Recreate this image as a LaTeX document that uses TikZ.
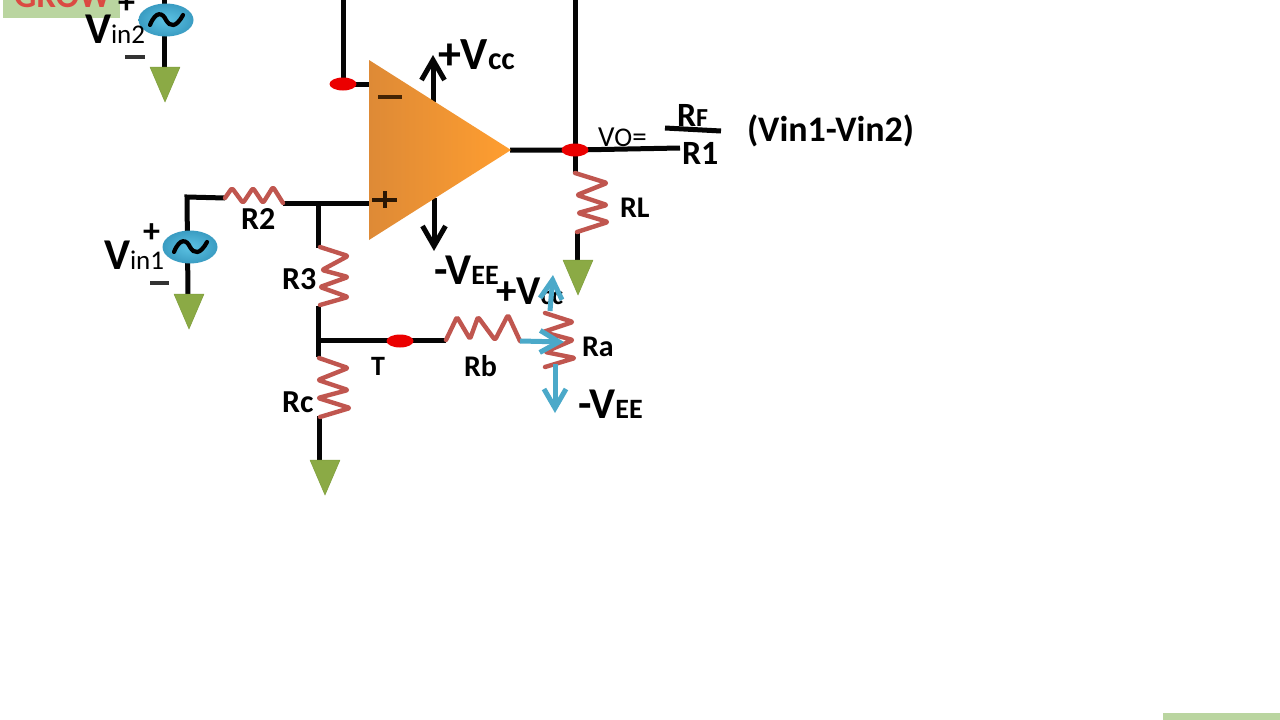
\documentclass[tikz,border=0pt]{standalone}
\usepackage{fontspec}
\setmainfont{Carlito}
\usetikzlibrary{arrows.meta,shapes.geometric}
\definecolor{wirec}{HTML}{050505}
\definecolor{resc}{HTML}{C0564F}
\definecolor{gndc}{HTML}{8BAA45}
\definecolor{gndd}{HTML}{7E9E3A}
\definecolor{bluea}{HTML}{4BA9C9}
\definecolor{barc}{HTML}{BAD5A0}
\definecolor{growc}{HTML}{DB4A42}
\definecolor{ampl}{HTML}{DE8A36}
\definecolor{ampr}{HTML}{FF9E30}
\definecolor{srci}{HTML}{5CC3E4}
\definecolor{srco}{HTML}{3A9CC2}
\tikzset{
  wire/.style={draw=wirec,line width=5pt},
  zig/.style={draw=resc,line width=4.4pt,line join=round,line cap=round,rounded corners=2pt},
  barb/.style={wire,-{Straight Barb[length=20pt,width=23pt,line width=5pt]}},
  bluew/.style={draw=bluea,line width=5pt,-{Straight Barb[length=19pt,width=22pt,line width=5pt]}},
  lab/.style={anchor=base west,inner sep=0pt,outer sep=0pt,text=black},
  srcnode/.style={ellipse,minimum width=55pt,minimum height=33pt,inner sep=0pt,inner color=srci,outer color=srco},
  dotn/.style={ellipse,minimum width=27pt,minimum height=13pt,inner sep=0pt,fill=red!92!black},
  gnd/.style={fill=gndc,draw=gndd,line width=.5pt,line join=round},
}
\newcommand{\bigf}[1]{{\fontsize{46}{46}\selectfont\bfseries #1}}
\newcommand{\vinf}[1]{{\fontsize{44}{44}\selectfont\bfseries #1}}
\newcommand{\smf}[1]{{\fontsize{27}{27}\selectfont #1}}
\newcommand{\ccf}[1]{{\fontsize{32}{32}\selectfont\bfseries #1}}
\newcommand{\eef}[1]{{\fontsize{28}{28}\selectfont\bfseries #1}}
\newcommand{\lbf}[1]{{\fontsize{32}{32}\selectfont\bfseries #1}}
\newcommand{\tilsym}[2]{\draw[black,line width=4.2pt,line cap=round] (#1-16,#2+5) .. controls (#1-10,#2-10) and (#1-3,#2-7) .. (#1,#2) .. controls (#1+4,#2+7) and (#1+10,#2+8) .. (#1+17,#2-5);}
\newcommand{\gndsym}[2]{\fill[gnd] (#1-15,#2) -- (#1+15,#2) -- (#1,#2+35) -- cycle;}
\begin{document}
\begin{tikzpicture}[x=1pt,y=-1pt]
\useasboundingbox (0,0) rectangle (1280,720);
\clip (0,0) rectangle (1280,720);
\fill[white] (0,0) rectangle (1280,720);
% banner pieces
\fill[barc] (3,0) rectangle (120,18);
\node[lab,text=growc] (grow) at (14,8) {\fontsize{35}{35}\selectfont\bfseries GROW};
\fill[barc] (1163,713) rectangle (1280,720);
% anchors
\coordinate (top2) at (164,-3);
\coordinate (g2) at (164,68);
\coordinate (r2a) at (225,198);
\coordinate (corner) at (187,197);
\coordinate (g1) at (188,295);
\coordinate (r2b) at (283,203);
\coordinate (inp) at (371,203);
\coordinate (jn) at (318,203);
\coordinate (r3a) at (318,248);
\coordinate (r3b) at (318,306);
\coordinate (jt) at (318,340);
\coordinate (rca) at (318,357);
\coordinate (rcb) at (319,416);
\coordinate (g3) at (319,462);
\coordinate (rba) at (446,340);
\coordinate (fbtop) at (343,-3);
\coordinate (inm) at (371,84);
\coordinate (fb2) at (575,-3);
\coordinate (out) at (510,150);
\coordinate (voend) at (680,148);
\coordinate (rla) at (575,173);
\coordinate (rlb) at (577,232);
\coordinate (g4) at (577,262);
\coordinate (vccs) at (433,102);
\coordinate (vcct) at (433,55);
\coordinate (vees) at (434,198);
\coordinate (veet) at (434,251);
\coordinate (ba1) at (520,341);
\coordinate (ba2) at (564,342);
\coordinate (bu1) at (550,311);
\coordinate (bu2) at (553,275);
\coordinate (bd1) at (555,364);
\coordinate (bd2) at (555,413);
% wires
\draw[wire] (top2) -- (g2);
\draw[wire] (g1) -- (corner) -- (r2a);
\draw[wire] (r2b) -- (inp);
\draw[wire] (jn) -- (r3a);
\draw[wire] (r3b) -- (rca);
\draw[wire] (jt) -- (rba);
\draw[wire] (rcb) -- (g3);
\draw[wire] (fbtop) |- (inm);
\draw[wire] (fb2) -- (rla);
\draw[wire] (out) -- (575,150) -- (voend);
\draw[wire] (rlb) -- (g4);
\draw[barb] (vccs) -- (vcct);
\draw[barb] (vees) -- (veet);
% resistors
\draw[zig] (r2a) -- (232,188) -- (243,203) -- (253,188) -- (263,203) -- (273,187) -- (r2b);
\draw[zig] (320,247) -- (348,256) -- (322,270) -- (348,277) -- (320,287) -- (348,297) -- (320,305);
\draw[zig] (319,358) -- (348,368) -- (318,380) -- (348,390) -- (318,398) -- (350,408) -- (320,417);
\draw[zig] (rla) -- (607,183) -- (577,195) -- (607,205) -- (578,213) -- (608,222) -- (rlb);
\draw[zig] (rba) -- (457,317) -- (470,339) -- (478,317) -- (495,340) -- (508,315) -- (ba1);
\draw[zig] (545,313) -- (573,322) -- (543,332) -- (573,340) -- (545,352) -- (575,358) -- (545,367);
% grounds
\gndsym{165}{67}
\gndsym{189}{294}
\gndsym{325}{460}
\gndsym{578}{260}
% sources
\node[srcnode] (vin2) at (166,20) {};
\tilsym{166}{20}
\node[srcnode] (vin1) at (190,247) {};
\tilsym{190}{247}
% op amp
\shade[left color=ampl,right color=ampr] (369,60) -- (511,150) -- (369,240) -- cycle;
\draw[wirec!75!orange,line width=3.6pt] (378,97) -- (402,97);
\draw[wirec!85!orange,line width=3.6pt] (372,200) -- (397,200);
\draw[wirec!85!orange,line width=4.4pt] (385,191) -- (385,208);
% dots
\node[dotn] (d1) at (343,84) {};
\node[dotn] (d2) at (575,150) {};
\node[dotn] (d3) at (400,341) {};
% labels
\node[lab] (p2) at (118,13) {\fontsize{34}{34}\selectfont\bfseries +};
\draw[black!80,line width=3.2pt] (125,57) -- (145,57);
\node[lab] (lv2) at (85,43) {\vinf{V}\smf{in2}};
\node[lab] (p1) at (143,242) {\fontsize{34}{34}\selectfont\bfseries +};
\draw[black!80,line width=3.2pt] (150,283) -- (169,283);
\node[lab] (lv1) at (104,269) {\vinf{V}\smf{in1}};
\node[lab] (r2l) at (241,229) {\lbf{R2}};
\node[lab] (r3l) at (282,289) {\lbf{R3}};
\node[lab] (rcl) at (282,412) {\lbf{Rc}};
\node[lab] (tl) at (371,375) {\fontsize{28}{28}\selectfont\bfseries T};
\node[lab] (rbl) at (464,376) {\fontsize{30}{30}\selectfont\bfseries Rb};
\node[lab] (ral) at (582,356) {\fontsize{30}{30}\selectfont\bfseries Ra};
\node[lab] (rll) at (620,217) {\fontsize{30}{30}\selectfont\bfseries RL};
\node[lab] (vcc1) at (438,69) {\bigf{+V}\ccf{cc}};
\node[lab] (vee1) at (434,284) {\vinf{-V}\eef{EE}};
\node[lab] (vcc2) at (496,304) {{\fontsize{41}{41}\selectfont\bfseries +V}{\fontsize{27}{27}\selectfont\bfseries cc}};
\node[lab] (vee2) at (578,418) {\vinf{-V}\eef{EE}};
\node[lab] (vo) at (598,146) {\fontsize{29}{29}\selectfont V{\fontsize{27}{27}\selectfont O}=};
\node[lab] (rf) at (677,126) {\fontsize{34}{34}\selectfont\bfseries R{\fontsize{26}{26}\selectfont F}};
\draw[wire] (665,128) -- (721,131);
\node[lab] (r1) at (682,164) {\fontsize{34}{34}\selectfont\bfseries R1};
\node[lab] (form) at (747,141) {\fontsize{36}{36}\selectfont\bfseries (Vin1-Vin2)};
% blue arrows over labels
\draw[bluew] (ba1) -- (ba2);
\draw[bluew] (bu1) -- (bu2);
\draw[bluew] (bd1) -- (bd2);
\end{tikzpicture}
\end{document}
